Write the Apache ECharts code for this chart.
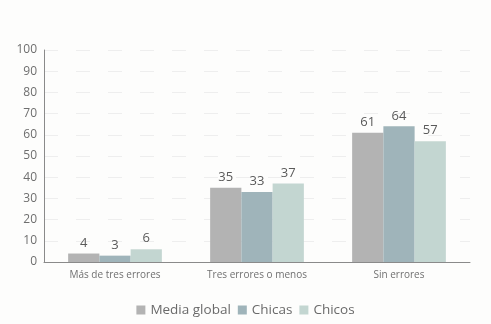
<!DOCTYPE html>
<html>
<head>
<meta charset="utf-8">
<style>
  html, body { margin: 0; padding: 0; background: #fdfdfc; }
  #chart { width: 491px; height: 324px; }
</style>
<script src="https://cdn.jsdelivr.net/npm/echarts@6/dist/echarts.min.js"></script>
</head>
<body>
<div id="chart"></div>
<script>
// Categories and series values
const categories = ['Más de tres errores', 'Tres errores o menos', 'Sin errores'];
const mediaGlobal = [4, 35, 61];
const chicas = [3, 33, 64];
const chicos = [6, 37, 57];
const yTicks = [0, 10, 20, 30, 40, 50, 60, 70, 80, 90, 100];

const chart = echarts.init(document.getElementById('chart'), null, { renderer: 'canvas' });

const labelStyle = {
  show: true,
  position: 'top',
  distance: 4,
  color: '#5a5a5a',
  fontFamily: 'Open Sans',
  fontSize: 13
};

function bar(name, data, color) {
  return {
    name: name,
    type: 'bar',
    data: data,
    barGap: '0%',
    barCategoryGap: '34%',
    itemStyle: { color: color },
    label: labelStyle
  };
}

chart.setOption({
  backgroundColor: '#fdfdfc',
  animation: false,
  grid: { left: 44, right: 21, top: 50, bottom: 62 },
  legend: {
    bottom: 2,
    left: 'center',
    itemWidth: 9,
    itemHeight: 9,
    itemGap: 7,
    icon: 'rect',
    textStyle: { color: '#6a6a6a', fontFamily: 'Open Sans', fontSize: 13.5 },
    data: ['Media global', 'Chicas', 'Chicos']
  },
  xAxis: {
    type: 'category',
    data: categories,
    axisLine: { show: true, lineStyle: { color: '#8a8a8a', width: 1 } },
    axisTick: { show: false },
    axisLabel: { color: '#707070', fontFamily: 'Open Sans', fontSize: 10, margin: 8 }
  },
  yAxis: {
    type: 'value',
    min: yTicks[0],
    max: yTicks[yTicks.length - 1],
    interval: 10,
    axisLine: { show: true, lineStyle: { color: '#8a8a8a', width: 1 } },
    axisTick: { show: false },
    axisLabel: { color: '#6e6e6e', fontFamily: 'Open Sans', fontSize: 12, margin: 7 },
    splitLine: { show: true, lineStyle: { color: '#eeeeee', type: [14, 18], width: 1 } }
  },
  series: [
    bar('Media global', mediaGlobal, '#b3b3b3'),
    bar('Chicas', chicas, '#9fb4ba'),
    bar('Chicos', chicos, '#c3d6d1')
  ]
});
</script>
</body>
</html>
